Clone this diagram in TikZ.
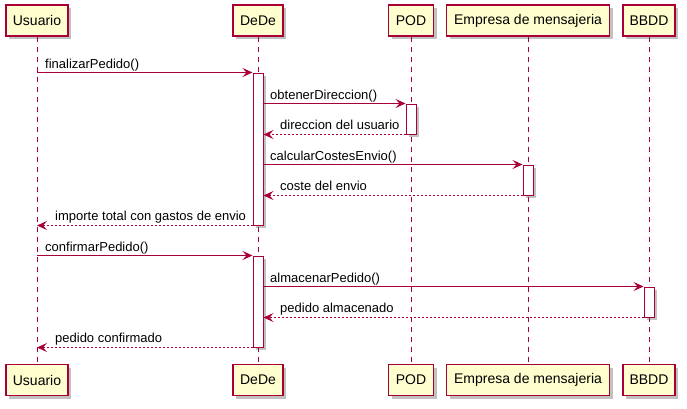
\documentclass[tikz,border=0pt]{standalone}
\usepackage{fontspec}
\setmainfont{Liberation Sans}
\usetikzlibrary{arrows.meta,shadows}
\definecolor{pbord}{HTML}{A80036}
\definecolor{pfill}{HTML}{FEFECE}
\begin{document}
\begin{tikzpicture}[x=1pt,y=-1pt,
  part/.style={draw=pbord, fill=pfill, line width=1.3pt, minimum height=31pt, inner sep=0pt,
    font=\fontsize{14}{16}\selectfont,
    drop shadow={shadow xshift=3pt, shadow yshift=-3pt, opacity=0.35, fill=black!70}},
  actbar/.style={draw=pbord, fill=white, line width=1pt, minimum width=10pt, inner sep=0pt,
    drop shadow={shadow xshift=3pt, shadow yshift=-3pt, opacity=0.35, fill=black!70}},
  life/.style={draw=pbord, line width=1pt, dash pattern=on 5pt off 5pt},
  msg/.style={draw=pbord, line width=1pt, -{Stealth[length=10pt,width=9pt,inset=4pt]}},
  ret/.style={msg, dash pattern=on 2pt off 2pt},
  lbl/.style={anchor=base west, inner sep=0pt, font=\fontsize{13}{15}\selectfont}]
\useasboundingbox (0,0) rectangle (687,408);
% participants top
\node[part, minimum width=62pt] (uT) at (37,20.5) {Usuario};
\node[part, minimum width=50pt] (dT) at (258,20.5) {DeDe};
\node[part, minimum width=45pt] (pT) at (411,20.5) {POD};
\node[part, minimum width=163pt] (eT) at (528,20.5) {Empresa de mensajeria};
\node[part, minimum width=52pt] (bT) at (649,20.5) {BBDD};
% participants bottom
\node[part, minimum width=62pt] (uB) at (37,380) {Usuario};
\node[part, minimum width=50pt] (dB) at (258,380) {DeDe};
\node[part, minimum width=45pt] (pB) at (411,380) {POD};
\node[part, minimum width=163pt] (eB) at (528,380) {Empresa de mensajeria};
\node[part, minimum width=52pt] (bB) at (649,380) {BBDD};
% lifelines
\draw[life] (uT.south) -- (uB.north);
\draw[life] (dT.south) -- (dB.north);
\draw[life] (pT.south) -- (pB.north);
\draw[life] (eT.south) -- (eB.north);
\draw[life] (bT.south) -- (bB.north);
% activation bars
\node[actbar, minimum height=152pt] (a1) at (258,149) {};
\node[actbar, minimum height=30pt] (p1) at (411,119) {};
\node[actbar, minimum height=30pt] (e1) at (528,180) {};
\node[actbar, minimum height=91pt] (a2) at (258,301.5) {};
\node[actbar, minimum height=30pt] (b1) at (649,302) {};
% messages
\draw[msg] (uT |- a1.north) -- (a1.north west);
\node[lbl] (l1) at (45,68) {finalizarPedido()};
\draw[msg] (a1.east |- p1.north) -- (p1.north west);
\node[lbl] (l2) at (270,99) {obtenerDireccion()};
\draw[ret] (p1.south west) -- (a1.east |- p1.south);
\node[lbl] (l3) at (280,129) {direccion del usuario};
\draw[msg] (a1.east |- e1.north) -- (e1.north west);
\node[lbl] (l4) at (270,160) {calcularCostesEnvio()};
\draw[ret] (e1.south west) -- (a1.east |- e1.south);
\node[lbl] (l5) at (280,190) {coste del envio};
\draw[ret] (a1.south west) -- (uT |- a1.south);
\node[lbl] (l6) at (55,220) {importe total con gastos de envio};
\draw[msg] (uT |- a2.north) -- (a2.north west);
\node[lbl] (l7) at (45,251) {confirmarPedido()};
\draw[msg] (a2.east |- b1.north) -- (b1.north west);
\node[lbl] (l8) at (270,282) {almacenarPedido()};
\draw[ret] (b1.south west) -- (a2.east |- b1.south);
\node[lbl] (l9) at (280,312) {pedido almacenado};
\draw[ret] (a2.south west) -- (uT |- a2.south);
\node[lbl] (l10) at (55,342) {pedido confirmado};
\end{tikzpicture}
\end{document}
